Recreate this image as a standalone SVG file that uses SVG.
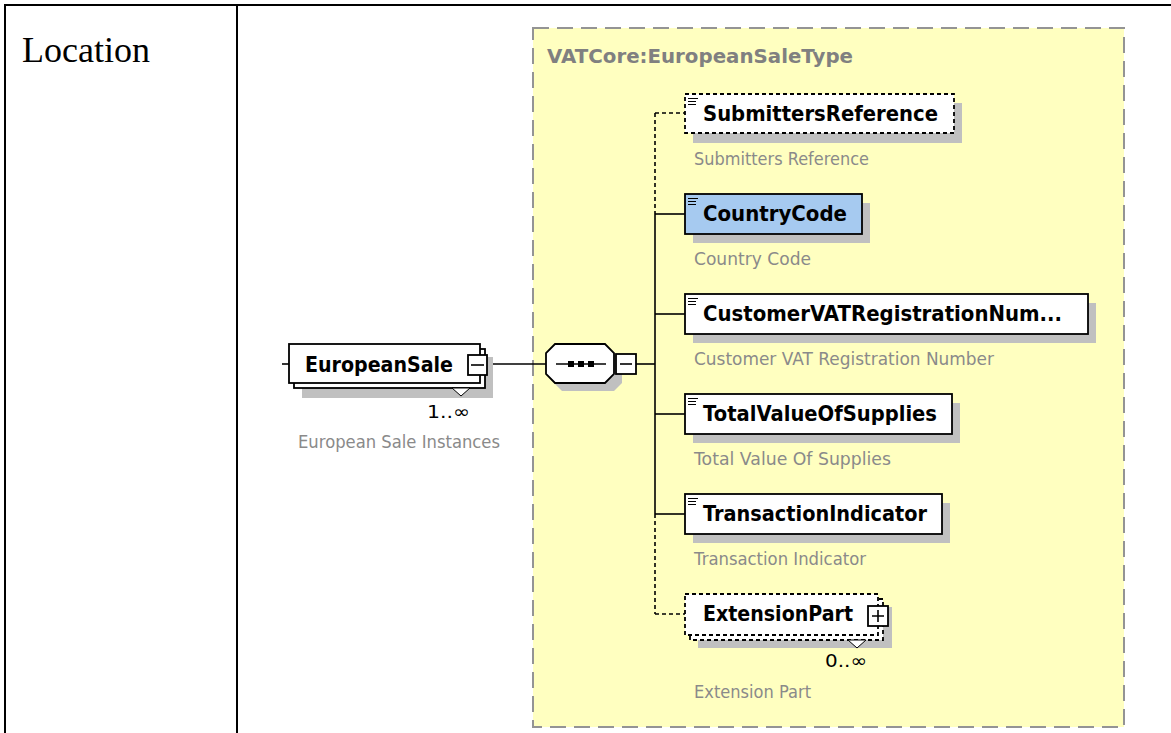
<svg xmlns="http://www.w3.org/2000/svg" width="1171" height="733" viewBox="0 0 1171 733">
<defs>
<style>
.tbl{stroke:#000;stroke-width:2;fill:none}
.cell{font-family:"Liberation Serif","Times New Roman",serif;font-size:36px;fill:#000}
.frame{fill:#ffffc0;stroke:#949494;stroke-width:2;stroke-dasharray:16 8}
.title{font-family:"DejaVu Sans",Tahoma,sans-serif;font-weight:bold;font-size:20px;fill:#808080}
.box{fill:#fff;stroke:#000;stroke-width:1.8}
.dbox{fill:#fff;stroke:#000;stroke-width:1.8;stroke-dasharray:4 3}
.blue{fill:#a6caf0}
.shadow{fill:#c0c0c0}
.name{font-family:"DejaVu Sans",Tahoma,sans-serif;font-weight:bold;font-size:21px;fill:#000}
.desc{font-family:"DejaVu Sans",Tahoma,sans-serif;font-size:17px;fill:#8a8a8a}
.occ{font-family:"DejaVu Sans",Tahoma,sans-serif;font-size:18px;fill:#000}
.ln{stroke:#000;stroke-width:1.6;fill:none}
.dl{stroke:#000;stroke-width:1.6;fill:none;stroke-dasharray:4 3}
.ic{stroke:#000;stroke-width:1;fill:none}
</style>
</defs>
<rect width="1171" height="733" fill="#fff"/>
<g id="table">
<line class="tbl" x1="4" y1="5" x2="1171" y2="5"/>
<line class="tbl" x1="5" y1="4" x2="5" y2="733"/>
<line class="tbl" x1="237" y1="4" x2="237" y2="733"/>
<text class="cell" x="22" y="62">Location</text>
</g>
<g id="typeframe">
<rect class="frame" x="533" y="28" width="591" height="699"/>
<text class="title" x="547" y="63" textLength="306" lengthAdjust="spacingAndGlyphs">VATCore:EuropeanSaleType</text>
</g>
<g id="connectors">
<line class="ln" x1="282" y1="364" x2="289" y2="364"/>
<line class="ln" x1="487" y1="364" x2="546" y2="364"/>
<line class="ln" x1="636" y1="364" x2="655" y2="364"/>
<line class="dl" x1="655" y1="113" x2="655" y2="214"/>
<line class="ln" x1="655" y1="214" x2="655" y2="514"/>
<line class="dl" x1="655" y1="514" x2="655" y2="614"/>
<line class="dl" x1="655" y1="113" x2="685" y2="113"/>
<line class="ln" x1="655" y1="214" x2="685" y2="214"/>
<line class="ln" x1="655" y1="314" x2="685" y2="314"/>
<line class="ln" x1="655" y1="414" x2="685" y2="414"/>
<line class="ln" x1="655" y1="514" x2="685" y2="514"/>
<line class="dl" x1="655" y1="614" x2="685" y2="614"/>
</g>
<g id="EuropeanSale">
<rect class="shadow" x="302" y="357" width="191" height="41"/>
<rect class="box" x="294" y="349" width="191" height="39"/>
<rect class="box" x="289" y="344" width="191" height="39"/>
<polygon points="452,388 461,396 470,388" fill="#fff" stroke="#000" stroke-width="1"/>
<text class="name" x="305" y="372" textLength="148" lengthAdjust="spacingAndGlyphs">EuropeanSale</text>
<rect class="box" x="468" y="355" width="19" height="20"/>
<line class="ln" x1="471" y1="365" x2="484" y2="365"/>
<text class="occ" x="427" y="418" textLength="43" lengthAdjust="spacingAndGlyphs">1..∞</text>
<text class="desc" x="298" y="448" textLength="202" lengthAdjust="spacingAndGlyphs">European Sale Instances</text>
</g>
<g id="sequence">
<polygon class="shadow" points="562,352 614,352 622,360 622,383 614,391 562,391 554,383 554,360"/>
<polygon class="box" points="555,344 605,344 614,353 614,374 605,383 555,383 546,374 546,353"/>
<line class="ln" x1="556" y1="364" x2="606" y2="364"/>
<rect x="568" y="361" width="6" height="6" fill="#000"/>
<rect x="578" y="361" width="6" height="6" fill="#000"/>
<rect x="588" y="361" width="6" height="6" fill="#000"/>
<rect class="box" x="616" y="354" width="20" height="20"/>
<line class="ln" x1="620" y1="364" x2="632" y2="364"/>
</g>
<g id="SubmittersReference">
<rect class="shadow" x="693" y="103" width="269" height="40"/>
<rect class="dbox" x="685" y="94" width="269" height="39"/>
<path class="ic" d="M688,98.5h10M688,101.5h8M688,104.5h8"/>
<text class="name" x="703" y="121" textLength="235" lengthAdjust="spacingAndGlyphs">SubmittersReference</text>
<text class="desc" x="694" y="165" textLength="175" lengthAdjust="spacingAndGlyphs">Submitters Reference</text>
</g>
<g id="CountryCode">
<rect class="shadow" x="693" y="203" width="177" height="40"/>
<rect class="box blue" x="685" y="194" width="177" height="40"/>
<path class="ic" d="M688,198.5h10M688,201.5h8M688,204.5h8"/>
<text class="name" x="703" y="221" textLength="144" lengthAdjust="spacingAndGlyphs">CountryCode</text>
<text class="desc" x="694" y="265" textLength="117" lengthAdjust="spacingAndGlyphs">Country Code</text>
</g>
<g id="CustomerVATRegistrationNumber">
<rect class="shadow" x="693" y="303" width="403" height="40"/>
<rect class="box" x="685" y="294" width="403" height="40"/>
<path class="ic" d="M688,298.5h10M688,301.5h8M688,304.5h8"/>
<text class="name" x="703" y="321" textLength="359" lengthAdjust="spacingAndGlyphs">CustomerVATRegistrationNum...</text>
<text class="desc" x="694" y="365" textLength="300" lengthAdjust="spacingAndGlyphs">Customer VAT Registration Number</text>
</g>
<g id="TotalValueOfSupplies">
<rect class="shadow" x="693" y="403" width="267" height="40"/>
<rect class="box" x="685" y="394" width="267" height="40"/>
<path class="ic" d="M688,398.5h10M688,401.5h8M688,404.5h8"/>
<text class="name" x="703" y="421" textLength="234" lengthAdjust="spacingAndGlyphs">TotalValueOfSupplies</text>
<text class="desc" x="694" y="465" textLength="197" lengthAdjust="spacingAndGlyphs">Total Value Of Supplies</text>
</g>
<g id="TransactionIndicator">
<rect class="shadow" x="693" y="503" width="257" height="40"/>
<rect class="box" x="685" y="494" width="257" height="40"/>
<path class="ic" d="M688,498.5h10M688,501.5h8M688,504.5h8"/>
<text class="name" x="703" y="521" textLength="224" lengthAdjust="spacingAndGlyphs">TransactionIndicator</text>
<text class="desc" x="694" y="565" textLength="172" lengthAdjust="spacingAndGlyphs">Transaction Indicator</text>
</g>
<g id="ExtensionPart">
<rect class="shadow" x="698" y="607" width="194" height="41"/>
<rect class="dbox" x="690" y="599" width="193" height="41"/>
<rect class="dbox" x="685" y="594" width="193" height="41"/>
<polygon points="848,640 857,648 866,640" fill="#fff" stroke="#000" stroke-width="1"/>
<text class="name" x="703" y="621" textLength="150" lengthAdjust="spacingAndGlyphs">ExtensionPart</text>
<rect class="box" x="868" y="606" width="20" height="20"/>
<path class="ln" d="M872,616h12M878,610v12"/>
<text class="occ" x="825" y="667" textLength="42" lengthAdjust="spacingAndGlyphs">0..∞</text>
<text class="desc" x="694" y="698" textLength="117" lengthAdjust="spacingAndGlyphs">Extension Part</text>
</g>
</svg>
